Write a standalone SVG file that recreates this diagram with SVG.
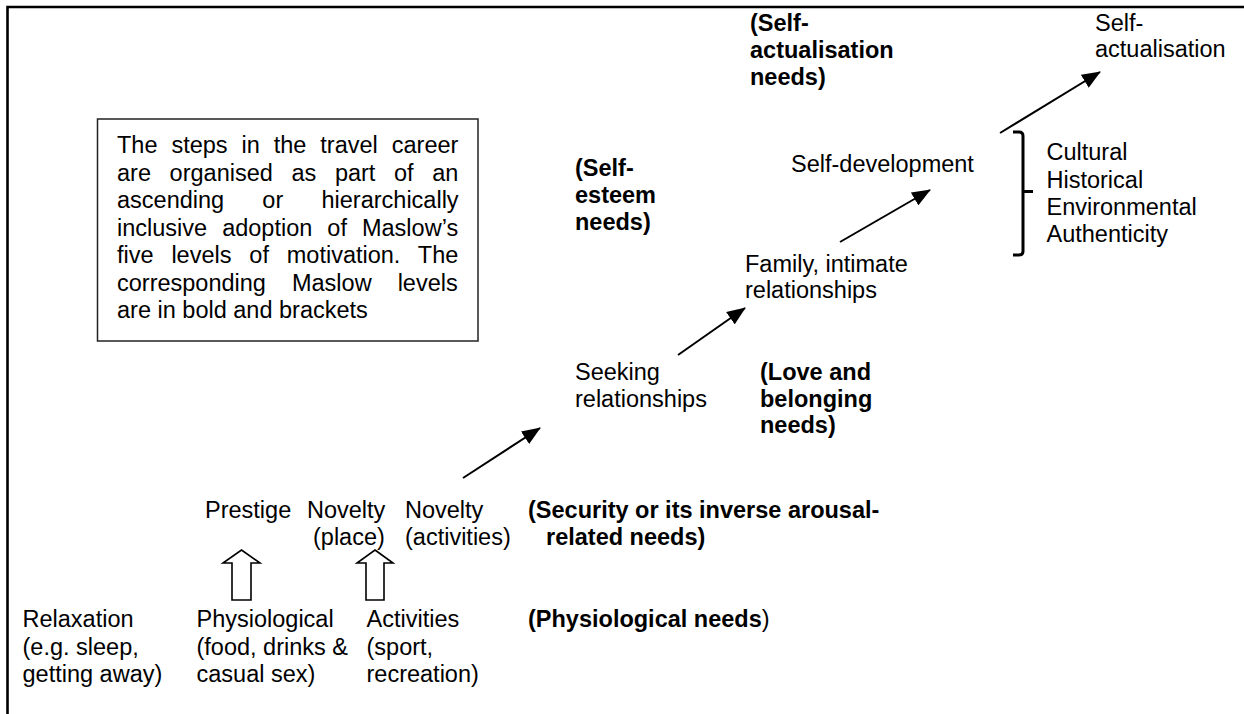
<svg xmlns="http://www.w3.org/2000/svg" width="1244" height="714" viewBox="0 0 1244 714">
  <style>
    text { font-family: "Liberation Sans", Arial, sans-serif; font-size: 23.5px; fill: #000; }
    .b { font-weight: bold; }
    .frame { stroke: #000; stroke-width: 2.6; fill: none; }
    .conn { stroke: #000; stroke-width: 2; fill: none; }
    .hollow { stroke: #000; stroke-width: 1.6; fill: #fff; stroke-linejoin: miter; }
  </style>
  <defs>
    <marker id="arr" viewBox="0 0 20 16" refX="19" refY="8" markerWidth="19" markerHeight="15" markerUnits="userSpaceOnUse" orient="auto">
      <path d="M0,0 L20,8 L0,16 z" fill="#000"/>
    </marker>
  </defs>

  <rect width="1244" height="714" fill="#fff"/>

  <!-- page frame -->
  <path class="frame" d="M7.5,714 V7 H1244"/>

  <!-- explanatory note -->
  <g id="note">
    <rect x="97.5" y="119" width="380.5" height="222" fill="#fff" stroke="#222" stroke-width="1.5"/>
    <text x="117" y="153" word-spacing="7.4">The steps in the travel career</text>
    <text x="117" y="180.5" word-spacing="12.1">are organised as part of an</text>
    <text x="117" y="208" word-spacing="31.7">ascending or hierarchically</text>
    <text x="117" y="235.5" word-spacing="8.5">inclusive adoption of Maslow’s</text>
    <text x="117" y="263" word-spacing="11.3">five levels of motivation. The</text>
    <text x="117" y="290.5" word-spacing="19.5">corresponding Maslow levels</text>
    <text x="117" y="318">are in bold and brackets</text>
  </g>

  <!-- level 1 -->
  <g id="relaxation">
    <text x="22.5" y="627">Relaxation</text>
    <text x="22.5" y="654.5">(e.g. sleep,</text>
    <text x="22.5" y="682">getting away)</text>
  </g>
  <g id="physiological">
    <text x="196.5" y="627">Physiological</text>
    <text x="196.5" y="654.5">(food, drinks &amp;</text>
    <text x="196.5" y="682">casual sex)</text>
  </g>
  <g id="activities">
    <text x="366.5" y="627">Activities</text>
    <text x="366.5" y="654.5">(sport,</text>
    <text x="366.5" y="682">recreation)</text>
  </g>
  <g id="physiological-needs">
    <text x="528" y="627"><tspan class="b">(Physiological needs</tspan>)</text>
  </g>

  <!-- level 2 -->
  <g id="prestige">
    <text x="205" y="518">Prestige</text>
  </g>
  <g id="novelty-place">
    <text x="307" y="518">Novelty</text>
    <text x="313" y="545">(place)</text>
  </g>
  <g id="novelty-activities">
    <text x="405" y="518">Novelty</text>
    <text x="405" y="545">(activities)</text>
  </g>
  <g id="security-needs">
    <text class="b" x="528" y="518">(Security or its inverse arousal-</text>
    <text class="b" x="546" y="545">related needs)</text>
  </g>

  <!-- level 3 -->
  <g id="seeking-relationships">
    <text x="575" y="380">Seeking</text>
    <text x="575" y="407">relationships</text>
  </g>
  <g id="love-needs">
    <text class="b" x="760" y="380">(Love and</text>
    <text class="b" x="760" y="407">belonging</text>
    <text class="b" x="760" y="433">needs)</text>
  </g>

  <!-- level 4 -->
  <g id="family">
    <text x="745" y="271.5">Family, intimate</text>
    <text x="745" y="298">relationships</text>
  </g>
  <g id="esteem-needs">
    <text class="b" x="575" y="176">(Self-</text>
    <text class="b" x="575" y="203">esteem</text>
    <text class="b" x="575" y="230">needs)</text>
  </g>
  <g id="self-development">
    <text x="791" y="172">Self-development</text>
  </g>
  <g id="authenticity">
    <path d="M1013,132 H1019 Q1023,132 1023,136 V191.5 H1033 M1023,191.5 V251 Q1023,255 1019,255 H1013" stroke="#000" stroke-width="3" fill="none"/>
    <text x="1046.5" y="160">Cultural</text>
    <text x="1046.5" y="187.5">Historical</text>
    <text x="1046.5" y="214.5">Environmental</text>
    <text x="1046.5" y="241.5">Authenticity</text>
  </g>

  <!-- level 5 -->
  <g id="actualisation-needs">
    <text class="b" x="750" y="31">(Self-</text>
    <text class="b" x="750" y="58">actualisation</text>
    <text class="b" x="750" y="85">needs)</text>
  </g>
  <g id="self-actualisation">
    <text x="1095" y="31">Self-</text>
    <text x="1095" y="57">actualisation</text>
  </g>

  <!-- connectors -->
  <g id="connectors">
    <line class="conn" x1="463" y1="478" x2="540" y2="428" marker-end="url(#arr)"/>
    <line class="conn" x1="678" y1="355" x2="745" y2="308" marker-end="url(#arr)"/>
    <line class="conn" x1="840" y1="242" x2="930" y2="190" marker-end="url(#arr)"/>
    <line class="conn" x1="1000" y1="133" x2="1100" y2="72" marker-end="url(#arr)"/>
    <path class="hollow" d="M241.5,550 L260,563 L251,563 L251,600 L232,600 L232,563 L223,563 Z"/>
    <path class="hollow" d="M375,550 L393,563 L384,563 L384,600 L366,600 L366,563 L357,563 Z"/>
  </g>
</svg>
